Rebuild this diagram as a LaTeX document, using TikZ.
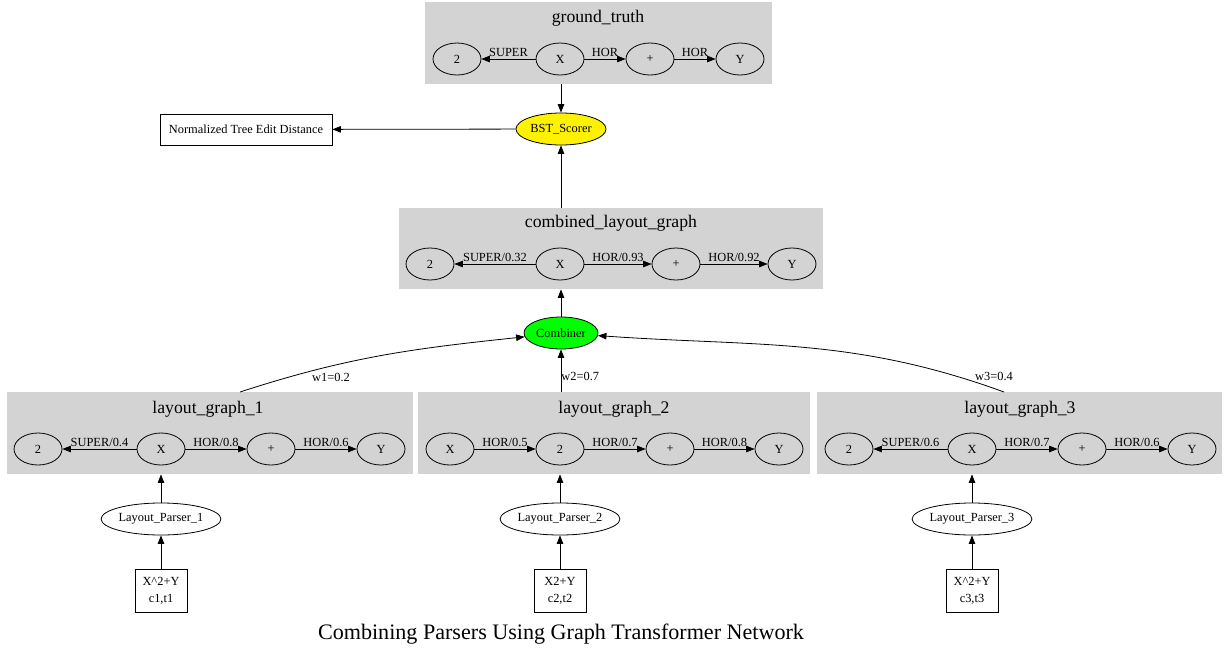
\documentclass[tikz,border=0pt]{standalone}
\usepackage{fontspec}
\setmainfont{Liberation Serif}
\usetikzlibrary{positioning,arrows.meta,shapes.geometric,calc}

\definecolor{lightgrey}{HTML}{D3D3D3}
\newcommand{\gvsmall}{\fontsize{12.4}{14.5}\selectfont}
\newcommand{\gvlarge}{\fontsize{17.7}{20}\selectfont}
\newcommand{\gvtitle}{\fontsize{22.1}{25}\selectfont}

\begin{document}
\begin{tikzpicture}[x=1pt, y=-1pt, line width=0.8pt,
  every node/.style={font=\gvsmall},
  vtx/.style={draw,ellipse,minimum width=48pt,minimum height=32pt,inner sep=0pt},
  cluster/.style={fill=lightgrey,inner sep=0pt,minimum height=82pt},
  arr/.style={-{Triangle[length=8.5pt,width=6.5pt]}},
  lbl/.style={above,inner sep=2pt}]
  \useasboundingbox (0,0) rectangle (1225,651);

  % grey cluster boxes
  \node[cluster,minimum width=347pt] (gt) at (598.5,43) {};
  \node[cluster,minimum width=424pt,minimum height=81pt] (cl) at (611,248.5) {};
  \node[cluster,minimum width=406pt] (lg1) at (210,433) {};
  \node[cluster,minimum width=392pt] (lg2) at (614,433) {};
  \node[cluster,minimum width=405pt] (lg3) at (1019.5,433) {};

  \node[font=\gvlarge] (gtT) at (598,18) {ground\_truth};
  \node[font=\gvlarge] (clT) at (611,223) {combined\_layout\_graph};
  \node[font=\gvlarge] (lg1T) at (208,409) {layout\_graph\_1};
  \node[font=\gvlarge] (lg2T) at (614,409) {layout\_graph\_2};
  \node[font=\gvlarge] (lg3T) at (1020,409) {layout\_graph\_3};

  % ground truth
  \node[vtx] (gt2) at (457,59) {2};
  \node[vtx] (gtX) at (560,59) {X};
  \node[vtx] (gtP) at (650,59) {+};
  \node[vtx] (gtY) at (740,59) {Y};
  \draw[arr] (gtX) -- node[lbl] {SUPER} (gt2);
  \draw[arr] (gtX) -- node[lbl] {HOR} (gtP);
  \draw[arr] (gtP) -- node[lbl] {HOR} (gtY);

  % combined graph
  \node[vtx] (cl2) at (430,264) {2};
  \node[vtx] (clX) at (560,264) {X};
  \node[vtx] (clP) at (676,264) {+};
  \node[vtx] (clY) at (792,264) {Y};
  \draw[arr] (clX) -- node[lbl] {SUPER/0.32} (cl2);
  \draw[arr] (clX) -- node[lbl] {HOR/0.93} (clP);
  \draw[arr] (clP) -- node[lbl] {HOR/0.92} (clY);

  % layout graphs 1 and 3 share one shape
  \foreach \i/\dx/\a/\b/\c in {1/0/0.4/0.8/0.6, 3/811/0.6/0.7/0.6} {
    \node[vtx] (lg\i2) at (38+\dx,449) {2};
    \node[vtx] (lg\i X) at (161+\dx,449) {X};
    \node[vtx] (lg\i P) at (271+\dx,449) {+};
    \node[vtx] (lg\i Y) at (381+\dx,449) {Y};
    \draw[arr] (lg\i X) -- node[lbl] {SUPER/\a} (lg\i2);
    \draw[arr] (lg\i X) -- node[lbl] {HOR/\b} (lg\i P);
    \draw[arr] (lg\i P) -- node[lbl] {HOR/\c} (lg\i Y);
  }

  % layout graph 2
  \node[vtx] (lg2X) at (450,449) {X};
  \node[vtx] (lg22) at (560,449) {2};
  \node[vtx] (lg2P) at (670,449) {+};
  \node[vtx] (lg2Y) at (779,449) {Y};
  \draw[arr] (lg2X) -- node[lbl] {HOR/0.5} (lg22);
  \draw[arr] (lg22) -- node[lbl] {HOR/0.7} (lg2P);
  \draw[arr] (lg2P) -- node[lbl] {HOR/0.8} (lg2Y);

  % scorer and combiner
  \node[draw,ellipse,fill=yellow,minimum width=90pt,minimum height=32pt,inner sep=0pt] (bst) at (561,129) {BST\_Scorer};
  \node[draw,minimum width=172pt,minimum height=31pt,inner sep=0pt] (ted) at (246,129.5) {Normalized Tree Edit Distance};
  \node[draw,ellipse,fill=green,minimum width=74pt,minimum height=32pt,inner sep=0pt] (comb) at (561,333) {Combiner};

  \draw[arr] (gt.south -| bst) -- (bst);
  \draw[arr] (bst) -- (ted);
  \draw[arr] (cl.north -| bst) -- (bst);
  \draw[arr] (comb) -- (comb |- cl.south);

  % weighted inputs of the combiner
  \coordinate (w1s) at (240,392);
  \coordinate (w3s) at (1004,392);
  \draw[arr] (w1s) to[out=18,in=186] (comb);
  \draw[arr] (w3s) to[out=160,in=-4] (comb);
  \draw[arr] (comb |- lg2.north) -- node[pos=0.36,right,inner sep=0pt] {w2=0.7} (comb);
  \node (w1) at (331,377) {w1=0.2};
  \node (w3) at (994,376) {w3=0.4};

  % parsers and their inputs
  \foreach \i/\x/\expr in {1/161/X\textasciicircum2+Y, 2/560/X2+Y, 3/972/X\textasciicircum2+Y} {
    \node[draw,ellipse,minimum width=111pt,minimum height=32pt,inner sep=0pt] (lp\i) at (\x,519) {Layout\_Parser\_\i};
    \node[draw,minimum width=52pt,minimum height=43pt,inner sep=0pt,align=center,
      font=\fontsize{12.4}{17}\selectfont] (in\i) at (\x,591) {\expr\\c\i,t\i};
    \draw[arr] (in\i) -- (lp\i);
    \draw[arr] (lp\i) -- (lp\i |- lg\i.south);
  }

  \node[font=\gvtitle] (title) at (561,634) {Combining Parsers Using Graph Transformer Network};
\end{tikzpicture}
\end{document}
